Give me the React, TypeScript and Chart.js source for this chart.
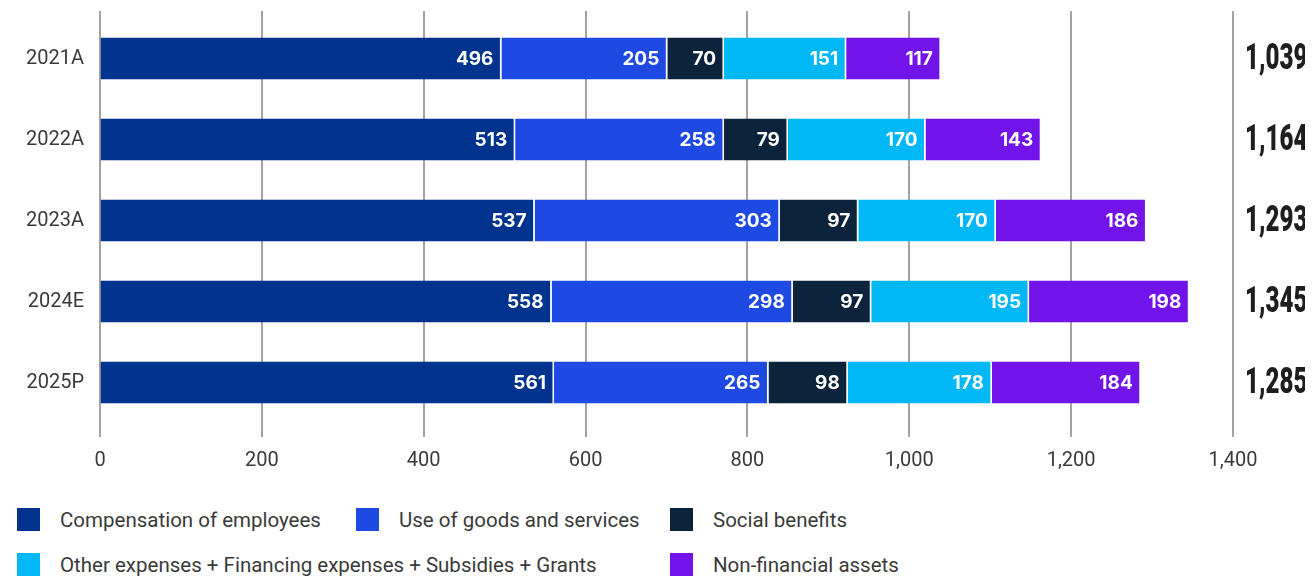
import React, { useEffect, useRef } from "react";
import { Chart, registerables } from "chart.js";

Chart.register(...registerables);

const categories = ["2021A", "2022A", "2023A", "2024E", "2025P"];
const compensation = [496, 513, 537, 558, 561];
const goodsServices = [205, 258, 303, 298, 265];
const socialBenefits = [70, 79, 97, 97, 98];
const otherExpenses = [151, 170, 170, 195, 178];
const nonFinancial = [117, 143, 186, 198, 184];
const totals = [1039, 1164, 1293, 1345, 1285];

const seriesNames = [
  "Compensation of employees",
  "Use of goods and services",
  "Social benefits",
  "Other expenses + Financing expenses + Subsidies + Grants",
  "Non-financial assets",
];
const seriesColors = ["#00338D", "#1E49E2", "#0C233C", "#00B8F5", "#7213EA"];
const seriesValues = [compensation, goodsServices, socialBenefits, otherExpenses, nonFinancial];

const fmt = (v: number) => Number(v).toLocaleString("en-US");

const gridPlugin = {
  id: "customGrid",
  beforeDatasetsDraw(chart: any) {
    const { ctx, chartArea, scales } = chart;
    const x = scales.x;
    ctx.save();
    ctx.strokeStyle = "#a3a3a3";
    ctx.lineWidth = 2;
    x.ticks.forEach((t: any) => {
      const px = Math.round(x.getPixelForValue(t.value));
      ctx.beginPath();
      ctx.moveTo(px, chartArea.top - 7);
      ctx.lineTo(px, chartArea.bottom + 14);
      ctx.stroke();
    });
    ctx.restore();
  },
};

const labelPlugin = {
  id: "barLabels",
  afterDatasetsDraw(chart: any) {
    const { ctx, chartArea, scales } = chart;
    ctx.save();
    ctx.fillStyle = "#ffffff";
    ctx.font = "700 19px Inter, Roboto, sans-serif";
    ctx.textAlign = "right";
    ctx.textBaseline = "middle";
    chart.data.datasets.forEach((ds: any, di: number) => {
      const meta = chart.getDatasetMeta(di);
      meta.data.forEach((el: any, i: number) => {
        ctx.fillText(fmt(ds.data[i]), el.x - 8, el.y + 1);
      });
    });
    ctx.restore();
    // totals (condensed heavy figures)
    ctx.save();
    ctx.fillStyle = "#1e1e1e";
    ctx.font = "900 36px Roboto, sans-serif";
    ctx.textAlign = "left";
    ctx.textBaseline = "middle";
    totals.forEach((t, i) => {
      const py = scales.y.getPixelForValue(i);
      ctx.save();
      ctx.translate(chartArea.right + 12, py + 1);
      ctx.scale(0.67, 1);
      ctx.fillText(fmt(t), 0, 0);
      ctx.restore();
    });
    ctx.restore();
  },
};

function ChartView() {
  const ref = useRef<HTMLCanvasElement | null>(null);
  useEffect(() => {
    if (!ref.current) return;
    const chart = new Chart(ref.current, {
      type: "bar",
      data: {
        labels: categories,
        datasets: seriesNames.map((name, i) => ({
          label: name,
          data: seriesValues[i],
          backgroundColor: seriesColors[i],
          borderColor: "rgba(255,255,255,0.85)",
          borderWidth: { left: 0, right: 1.5, top: 0, bottom: 0 },
          borderSkipped: false,
          barPercentage: 0.52,
          categoryPercentage: 1,
        })),
      },
      options: {
        indexAxis: "y",
        animation: false,
        responsive: true,
        maintainAspectRatio: false,
        layout: { padding: { top: 10, right: 72, left: 0, bottom: 0 } },
        plugins: {
          legend: { display: false },
          tooltip: { enabled: false },
        },
        scales: {
          x: {
            stacked: true,
            min: 0,
            max: 1400,
            border: { display: false },
            grid: { color: "transparent", drawTicks: true, tickLength: 14 },
            ticks: {
              stepSize: 200,
              padding: 12,
              color: "#3a3a3a",
              font: { family: "Roboto", size: 20 },
              callback: (v: any) => fmt(Number(v)),
            },
            afterFit: (s: any) => {
              s.height = 67;
              s.paddingLeft = 0;
            },
          },
          y: {
            stacked: true,
            border: { display: false },
            grid: { display: false, drawTicks: false },
            ticks: {
              padding: 16,
              color: "#3a3a3a",
              font: { family: "Roboto", size: 20 },
            },
            afterFit: (s: any) => {
              s.width = 92;
              s.paddingTop = 0;
              s.paddingBottom = 0;
            },
          },
        },
      },
      plugins: [gridPlugin, labelPlugin],
    } as any);
    return () => chart.destroy();
  }, []);
  return (
    <div style={{ position: "relative", width: "100%", height: 482 }}>
      <canvas ref={ref} />
    </div>
  );
}

function Legend() {
  return (
    <div
      style={{
        display: "grid",
        gridTemplateColumns: "339px 314px auto",
        rowGap: 22,
        paddingLeft: 9,
        marginTop: 18,
        fontFamily: "Roboto, sans-serif",
        fontSize: 20.5,
        color: "#3a3a3a",
      }}
    >
      {seriesNames.map((n, i) => (
        <div
          key={n}
          style={{
            display: "flex",
            alignItems: "center",
            height: 23,
            gridColumn: i === 3 ? "span 2" : undefined,
            whiteSpace: "nowrap",
          }}
        >
          <span
            style={{
              display: "inline-block",
              width: 23,
              height: 23,
              background: seriesColors[i],
              marginRight: 20,
              flex: "none",
            }}
          />
          <span>{n}</span>
        </div>
      ))}
    </div>
  );
}

export default function App() {
  useEffect(() => {
    document.documentElement.style.overflow = "hidden";
    document.body.style.overflow = "hidden";
  }, []);
  return (
    <div>
      <ChartView />
      <Legend />
    </div>
  );
}
